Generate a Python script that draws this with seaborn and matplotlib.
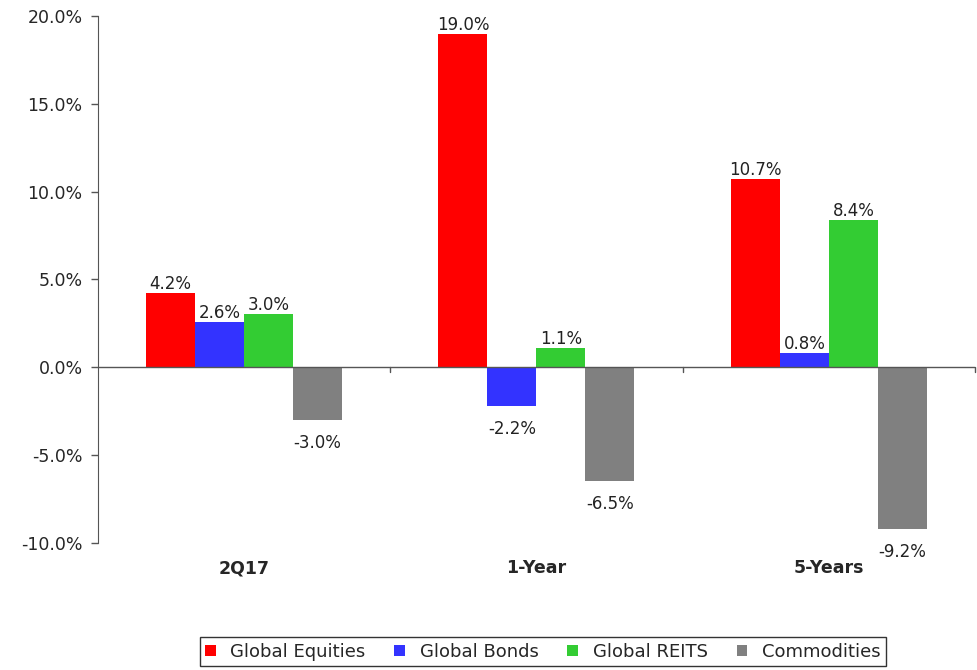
import numpy as np
import pandas as pd
import matplotlib
matplotlib.use("Agg")
import matplotlib.pyplot as plt
import seaborn as sns

periods = ["2Q17", "1-Year", "5-Years"]
assets = ["Global Equities", "Global Bonds", "Global REITS", "Commodities"]
equities = [4.2, 19.0, 10.7]
bonds = [2.6, -2.2, 0.8]
reits = [3.0, 1.1, 8.4]
commodities = [-3.0, -6.5, -9.2]
colors = ["#FF0000", "#3333FF", "#33CC33", "#808080"]

df = pd.DataFrame({
    "Period": periods * 4,
    "Asset": np.repeat(assets, 3),
    "Return": equities + bonds + reits + commodities,
})

sns.set_style("white")
plt.rcParams["font.family"] = ["DejaVu Sans"]

fig = plt.figure(figsize=(9.78, 6.70), dpi=100)
ax = fig.add_axes([0.100, 0.190, 0.897, 0.786])

sns.barplot(data=df, x="Period", y="Return", hue="Asset", order=periods,
            hue_order=assets, palette=colors, width=0.67, saturation=1,
            errorbar=None, ax=ax, legend=True, linewidth=0)

for cont in ax.containers:
    for bar in cont:
        h = bar.get_height()
        txt = f"{h:.1f}%"
        if h >= 0:
            ax.annotate(txt, (bar.get_x() + bar.get_width() / 2, h),
                        xytext=(0, 0), textcoords="offset points",
                        ha="center", va="bottom", fontsize=12, color="#222222")
        else:
            ax.annotate(txt, (bar.get_x() + bar.get_width() / 2, h),
                        xytext=(0, -10), textcoords="offset points",
                        ha="center", va="top", fontsize=12, color="#222222")

ax.set_ylim(-10, 20)
ax.set_xlim(-0.5, 2.5)
ax.set_yticks(np.arange(-10, 21, 5))
ax.set_yticklabels([f"{v:.1f}%" for v in np.arange(-10, 21, 5)], fontsize=12.5)
ax.tick_params(axis="y", direction="out", length=5, width=1, color="#555555",
               left=True, pad=6)
ax.tick_params(axis="x", length=0, pad=12)
for lab in ax.get_xticklabels():
    lab.set_fontweight("bold")
    lab.set_fontsize(12.5)
ax.set_xlabel("")
ax.set_ylabel("")

sns.despine(ax=ax, top=True, right=True, bottom=True)
ax.spines["left"].set_color("#555555")
ax.axhline(0, color="#555555", lw=1)
for b in [0.5, 1.5, 2.5]:
    ax.plot([b, b], [0, -0.3], color="#555555", lw=1, clip_on=False)

handles, labels = ax.get_legend_handles_labels()
ax.legend_.remove()
fig.legend(handles, labels, loc="center", bbox_to_anchor=(0.555, 0.027),
           ncol=4, frameon=True, fancybox=False, edgecolor="black",
           fontsize=13, handlelength=0.6, handleheight=0.6,
           columnspacing=1.6, handletextpad=0.8, borderpad=0.3)

fig.savefig("out.png", dpi=100)
